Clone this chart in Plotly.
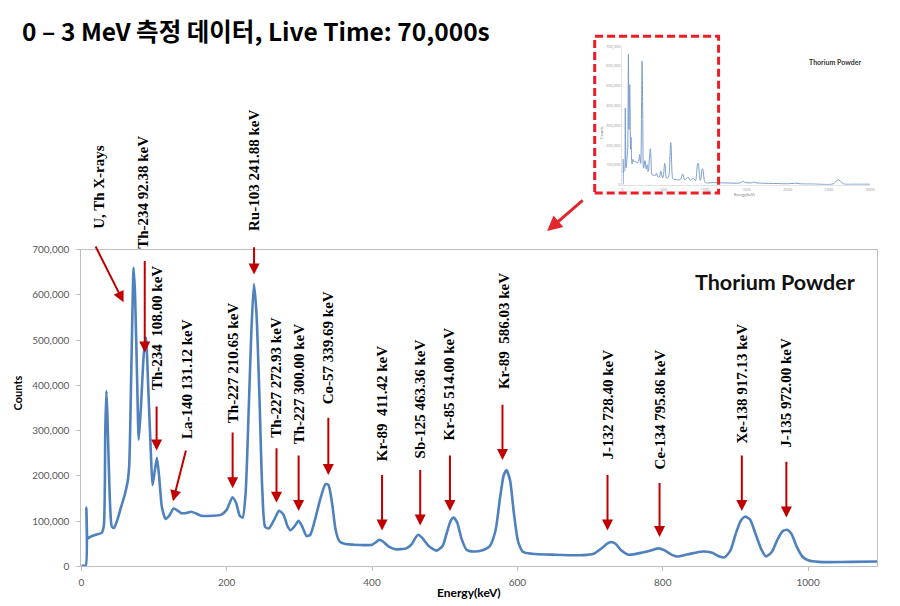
import plotly.graph_objects as go

# ---------------- data ----------------
energy_kev = [0, 6, 7, 9, 12, 20, 28, 31, 33, 34.5, 36, 39, 42, 45, 49, 54, 60, 64, 66, 69, 72, 74, 77, 79,
              82, 86, 89, 92, 96, 98, 101, 104, 107, 111, 116, 121, 127, 132, 137, 144, 151, 158, 165, 180,
              192, 200, 208, 213, 218, 222, 226, 230, 234, 237.5, 241, 245, 249, 253, 258, 266, 272, 278,
              284, 288, 294, 299, 304, 310, 315, 321, 329, 336, 340, 345, 350, 355, 362, 375, 390, 400, 405,
              410, 415, 422, 432, 447, 455, 460, 464, 469, 478, 489, 497, 503, 508, 512, 517, 523, 530, 540,
              552, 562, 570, 576, 581, 585, 590, 595, 601, 608, 620, 650, 690, 705, 716, 723, 729, 735, 742,
              753, 770, 785, 794, 802, 812, 820, 835, 855, 868, 878, 885, 893, 900, 907, 913, 920, 927, 935,
              942, 950, 958, 965, 971, 977, 984, 992, 1001, 1015, 1030, 1060, 1095]
counts = [2000, 2000, 130000, 62000, 65000, 70000, 74000, 90000, 300000, 388000, 330000, 160000, 88000, 85000,
          100000, 127000, 160000, 190000, 225000, 450000, 660000, 600000, 400000, 280000,
          350000, 470000, 506000, 400000, 240000, 180000, 210000, 240000, 200000, 130000, 105000, 112000,
          128000, 124000, 118000, 118000, 121000, 117000, 112000, 112000,
          114000, 125000, 153000, 140000, 112000, 108000, 160000, 330000, 520000, 624000, 560000, 380000,
          170000, 87000, 84000, 105000, 123000, 115000,
          88000, 80000, 90000, 101000, 88000, 67000, 70000, 100000, 150000, 182000, 180000, 140000, 80000,
          56000, 50000, 48000, 47000, 48000, 53000,
          59000, 55000, 45000, 38000, 40000, 50000, 64000, 70000, 63000, 45000, 35000, 45000, 75000, 100000,
          108000, 98000, 62000, 37000, 33000,
          36000, 45000, 80000, 150000, 200000, 213000, 190000, 120000, 55000, 32000, 28000, 26000, 25000,
          28000, 40000, 50000, 54000, 50000, 37000,
          26000, 30000, 36000, 40000, 36000, 26000, 22000, 27000, 33000, 30000, 22000, 20000, 35000, 70000,
          100000, 110000, 104000, 75000, 40000,
          22000, 32000, 60000, 78000, 81000, 72000, 45000, 22000, 13000, 10000, 9500, 10000, 11000]

# high-energy part, visible only in the 0-3 MeV thumbnail
energy_hi_kev = [1200, 1300, 1400, 1440, 1460, 1480, 1560, 1590, 1620, 1700, 1900, 2000, 2100, 2150,
                 2300, 2550, 2590, 2614, 2640, 2680, 2800, 3000]
counts_hi = [10000, 9000, 8000, 12000, 20000, 12000, 10000, 14000, 10000, 8000, 6000, 5000, 8000, 5000,
             4000, 4000, 20000, 25000, 18000, 4000, 3000, 3000]

x_ticks = [0, 200, 400, 600, 800, 1000]
y_ticks = [0, 100000, 200000, 300000, 400000, 500000, 600000, 700000]
inset_x_ticks = [0, 500, 1000, 1500, 2000, 2500, 3000]

NB = "\u00a0"
peak_labels = ["U, Th X-rays", "Th-234 92.38 keV", "Th-234" + NB + " 108.00 keV", "La-140 131.12 keV",
               "Th-227 210.65 keV", "Ru-103 241.88 keV", "Th-227 272.93 keV", "Th-227 300.00 keV",
               "Co-57 339.69 keV", "Kr-89" + NB + " 411.42 keV", "Sb-125 463.36 keV", "Kr-85 514.00 keV",
               "Kr-89" + NB + " 586.03 keV", "J-132 728.40 keV", "Ce-134 795.86 keV", "Xe-138 917.13 keV",
               "J-135 972.00 keV"]

title_text = "0 – 3 MeV 측정 데이터, Live Time: 70,000s"

# ---------------- layout constants ----------------
# (text x [keV], text centre [px from top], arrow tail x [keV], tail y [counts], arrow tip x [keV], tip y [counts])
label_layout = [
    (24.1, 184.0, 18.7, 710200, 58.2, 583900),
    (84.5, 189.2, 87.3, 678400, 87.3, 472900),
    (105.0, 328.4, 103.6, 356800, 103.6, 256000),
    (144.5, 379.9, 144.5, 259500, 126.1, 144200),
    (208.2, 363.4, 208.2, 299300, 208.2, 173000),
    (237.7, 167.5, 237.7, 708700, 237.7, 645300),
    (268.6, 378.4, 268.6, 264700, 268.6, 140600),
    (299.0, 385.0, 299.0, 248700, 299.0, 122600),
    (339.9, 348.4, 339.9, 331700, 339.9, 202000),
    (413.8, 405.9, 413.8, 205400, 413.8, 79400),
    (466.3, 400.8, 466.3, 216300, 466.3, 90200),
    (507.2, 384.7, 507.2, 248700, 507.2, 122600),
    (580.9, 331.7, 579.5, 360500, 579.5, 235000),
    (724.0, 406.7, 724.0, 205400, 724.0, 79400),
    (795.6, 411.7, 795.6, 187500, 795.6, 64900),
    (908.8, 385.0, 908.8, 248700, 908.8, 122600),
    (970.1, 393.9, 970.1, 234400, 970.1, 108100),
]

W, H = 900, 606
def px(x):
    return x / W
def py(y):
    return 1 - y / H

BLUE = "#4F81BD"
DARKRED = "#C00000"
AXIS = "#BFBFBF"
TICKFONT = dict(family="Lato, 'Open Sans', sans-serif", size=10, color="#595959")
LABELFONT = dict(family="'Liberation Serif', 'Times New Roman', serif", size=15, color="black", weight="bold")

fig = go.Figure()

fig.add_trace(go.Scatter(
    x=energy_kev, y=counts, mode="lines",
    line=dict(color=BLUE, width=2.6, shape="spline", smoothing=0.6),
    xaxis="x", yaxis="y", hoverinfo="skip", showlegend=False))

fig.add_trace(go.Scatter(
    x=energy_kev + energy_hi_kev, y=counts + counts_hi, mode="lines",
    line=dict(color="#7A9CCC", width=1, shape="spline", smoothing=0.6),
    xaxis="x2", yaxis="y2", hoverinfo="skip", showlegend=False))

annotations = []
for text, (tx, ty, ax, ay, hx, hy) in zip(peak_labels, label_layout):
    annotations.append(dict(x=tx, y=py(ty), xref="x", yref="paper", text=text, showarrow=False,
                            textangle=-90, xanchor="center", yanchor="middle", font=LABELFONT))
    annotations.append(dict(x=hx, y=hy, xref="x", yref="y", ax=ax, ay=ay, axref="x", ayref="y",
                            text="", showarrow=True, arrowhead=2, arrowsize=1.1, arrowwidth=2,
                            arrowcolor=DARKRED))

# title
annotations.append(dict(x=px(17), y=py(24), xref="paper", yref="paper", text=title_text,
                        showarrow=False, xanchor="left", yanchor="middle",
                        font=dict(family="'Noto Sans CJK KR', sans-serif", size=24.5, color="black",
                                  weight="bold")))
# chart labels
annotations.append(dict(x=px(862), y=py(281), xref="paper", yref="paper", text="Thorium Powder",
                        showarrow=False, xanchor="right", yanchor="middle",
                        font=dict(family="Lato, sans-serif", size=21.5, color="#111111", weight="bold")))
annotations.append(dict(x=px(15), y=py(394), xref="paper", yref="paper", text="Counts", textangle=-90,
                        showarrow=False, xanchor="center", yanchor="middle",
                        font=dict(family="Lato, sans-serif", size=11, color="black", weight="bold")))
annotations.append(dict(x=px(470), y=py(598), xref="paper", yref="paper", text="Energy(keV)",
                        showarrow=False, xanchor="center", yanchor="middle",
                        font=dict(family="Lato, sans-serif", size=12, color="black", weight="bold")))
# inset labels
annotations.append(dict(x=px(868), y=py(56), xref="paper", yref="paper", text="Thorium Powder",
                        showarrow=False, xanchor="right", yanchor="middle",
                        font=dict(family="Lato, sans-serif", size=7, color="#333333", weight="bold")))
annotations.append(dict(x=px(604), y=py(128), xref="paper", yref="paper", text="Counts", textangle=-90,
                        showarrow=False, xanchor="center", yanchor="middle",
                        font=dict(family="Lato, sans-serif", size=4, color="#777777")))
annotations.append(dict(x=px(748), y=py(192), xref="paper", yref="paper", text="Energy(keV)",
                        showarrow=False, xanchor="center", yanchor="middle",
                        font=dict(family="Lato, sans-serif", size=4, color="#777777")))
# big red pointer from the thumbnail (offset in pixels from the tip)
annotations.append(dict(x=px(549), y=py(229), xref="paper", yref="paper", ax=37, ay=-32,
                        axref="pixel", ayref="pixel", text="", showarrow=True, arrowhead=2,
                        arrowsize=1, arrowwidth=3, arrowcolor="#E3262B"))

shapes = [dict(type="rect", xref="paper", yref="paper", x0=px(597), x1=px(722), y0=py(190), y1=py(30),
               line=dict(color="#EE1C25", width=3, dash="8px,4px"), fillcolor="rgba(0,0,0,0)")]

fig.update_layout(
    width=W, height=H, margin=dict(l=0, r=0, t=0, b=0),
    paper_bgcolor="white", plot_bgcolor="white",
    annotations=annotations, shapes=shapes,
    xaxis=dict(domain=[px(79), px(882)], range=[0, 1095], anchor="y", tickvals=x_ticks,
               showline=True, linecolor=AXIS, linewidth=1, mirror=True, ticks="outside", ticklen=4,
               tickcolor=AXIS, tickfont=TICKFONT, ticklabelstandoff=3, showgrid=False, zeroline=False),
    yaxis=dict(domain=[py(571.7), py(248)], range=[0, 700000], anchor="x", tickvals=y_ticks,
               tickformat=",", showline=True, linecolor=AXIS, linewidth=1, mirror=True, ticks="outside",
               ticklen=4, tickcolor=AXIS, tickfont=TICKFONT, ticklabelstandoff=5,
               showgrid=False, zeroline=False),
    xaxis2=dict(domain=[px(625), px(875)], range=[0, 3000], anchor="y2", tickvals=inset_x_ticks,
                showline=True, linecolor="#E3E3E3", ticks="", tickfont=dict(size=4, color="#999999"),
                showgrid=False, zeroline=False),
    yaxis2=dict(domain=[py(181.7), py(40)], range=[0, 700000], anchor="x2", tickvals=y_ticks,
                tickformat=",", showline=True, linecolor="#E3E3E3", ticks="",
                tickfont=dict(size=4, color="#999999"), showgrid=False, zeroline=False),
)

fig.write_html("out.html")
